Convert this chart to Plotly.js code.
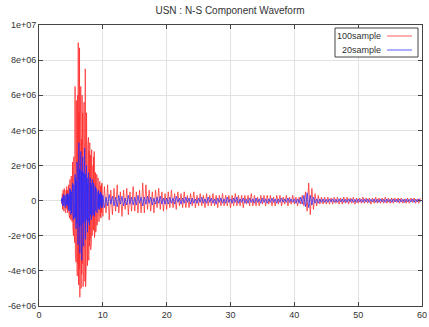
<!DOCTYPE html>
<html><head><meta charset="utf-8">
<script src="https://cdn.plot.ly/plotly-3.0.1.min.js"></script>
<style>html,body{margin:0;padding:0;background:#fff}#c{width:429px;height:327px}</style>
</head><body><div id="c"></div>
<script>
// Values in units of 1e6 counts
const UNIT = 1e6;
// 100sample series: main event (start 3.5 s, step 0.05 s) and coda (start 10 s, step 0.25 s)
const red_main_t0 = 3.5, red_main_dt = 0.05;
const red_main = [
 0,0.1,-0.2,0.4,-0.5,0.6,-0.4,0.5,-0.6,0.7,-0.5,0.4,-0.6,0.5,-0.7,0.6,-0.4,0.8,-0.5,0.6,
 -0.7,0.5,-0.6,0.9,-0.8,0.6,-1.0,1.2,-0.7,0.9,-1.1,1.4,-0.9,1.8,-1.2,2.2,-1.5,1.6,-2.0,2.5,
 -1.8,3.2,-2.4,6.5,-3.0,4.0,-3.5,5.7,-2.8,4.5,-4.3,6.0,-3.6,9.0,-4.8,5.0,-3.9,8.7,-5.5,4.2,
 -3.8,6.5,-5.0,3.5,-4.2,6.0,-3.6,5.0,-4.9,4.5,-4.0,5.6,-3.3,4.6,-4.6,7.5,-4.9,4.8,-3.7,5.0,
 -3.5,4.0,-3.7,3.2,-2.9,3.6,-3.4,2.8,-2.6,3.3,-2.2,2.6,-2.8,2.2,-2.4,2.9,-2.0,2.3,-1.9,2.0,
 -1.7,2.5,-1.6,2.8,-2.1,1.8,-1.5,1.6,-1.8,1.4,-1.2,1.5,-1.4,1.2,-1.0,1.3,-1.1,1.0,-1.2,0.9,
 -0.8,1.1,-0.9,0.8,-1.0,0.9,-0.7,1.0,-0.8,0.7
];
const red_tail_t0 = 10.0, red_tail_dt = 0.25;
const red_tail = [
 -0.9,0.8,-0.7,0.9,-1.1,0.6,-0.8,0.7,-0.6,0.9,-0.7,0.5,-0.9,0.6,-0.5,0.7,-0.8,0.5,-0.6,0.8,
 -0.6,0.5,-0.7,0.6,-0.7,1.0,-0.7,0.9,-0.5,0.6,-0.6,0.5,-0.7,0.6,-0.4,0.7,-0.5,0.5,-0.6,0.4,
 -0.5,0.5,-0.4,0.6,-0.4,0.4,-0.5,0.5,-0.3,0.4,-0.4,0.5,-0.4,0.3,-0.4,0.4,-0.3,0.5,-0.4,0.3,
 -0.3,0.4,-0.3,0.3,-0.4,0.4,-0.3,0.3,-0.3,0.4,-0.3,0.3,-0.4,0.3,-0.3,0.4,-0.3,0.3,-0.3,0.3,
 -0.4,0.3,-0.3,0.4,-0.3,0.3,-0.3,0.3,-0.4,0.3,-0.2,0.3,-0.3,0.4,-0.3,0.3,-0.3,0.2,-0.3,0.3,
 -0.2,0.3,-0.3,0.3,-0.2,0.3,-0.3,0.2,-0.3,0.3,-0.2,0.3,-0.3,0.2,-0.2,0.3,-0.3,0.2,-0.2,0.3,
 -0.2,0.2,-0.3,0.2,-0.2,0.3,-0.3,0.5,-0.6,1.0,-0.8,0.7,-0.5,0.4,-0.3,0.3,-0.2,0.2,-0.2,0.2,
 -0.2,0.2,-0.2,0.15,-0.2,0.2,-0.15,0.2,-0.2,0.15,-0.2,0.2,-0.15,0.2,-0.2,0.15,-0.15,0.2,-0.2,0.15,
 -0.15,0.15,-0.15,0.2,-0.15,0.15,-0.15,0.15,-0.2,0.15,-0.15,0.2,-0.15,0.15,-0.15,0.15,-0.15,0.2,-0.15,0.15,
 -0.15,0.15,-0.15,0.15,-0.1,0.15,-0.15,0.15,-0.15,0.1,-0.15,0.15,-0.15,0.15,-0.1,0.15,-0.15,0.1,-0.15,0.15
];
// 20sample series: main event (start 3.5 s, step 0.05 s) and coda (start 10 s, step 0.25 s)
const blue_main_t0 = 3.5, blue_main_dt = 0.05;
const blue_main = [
 0,0.1,-0.15,0.2,-0.3,0.25,-0.2,0.35,-0.3,0.2,-0.25,0.3,-0.4,0.2,-0.3,0.35,-0.25,0.3,-0.2,0.4,
 -0.3,0.4,-0.5,0.3,-0.6,0.5,-0.4,0.7,-0.5,0.6,-0.8,0.5,-0.7,0.9,-0.6,1.0,-0.8,0.7,-1.1,0.9,
 -0.8,1.2,-1.0,1.5,-0.9,1.3,-1.6,1.1,-1.3,2.2,-1.2,1.6,-2.5,1.4,-1.7,3.3,-1.5,1.8,-3.0,1.5,
 -1.6,2.8,-1.4,1.7,-3.4,1.5,-1.8,2.5,-1.3,1.6,-2.6,1.4,-1.5,3.0,-1.2,1.5,-2.2,1.3,-1.4,2.0,
 -1.1,1.3,-1.8,1.0,-1.2,1.6,-0.9,1.1,-1.4,0.9,-1.0,1.3,-0.8,1.0,-1.1,0.8,-0.9,1.2,-0.7,0.9,
 -0.8,1.0,-0.7,0.8,-0.9,0.6,-0.7,0.8,-0.6,0.7,-0.5,0.6,-0.7,0.5,-0.6,0.5,-0.4,0.6,-0.5,0.4,
 -0.5,0.4,-0.4,0.5,-0.3,0.4,-0.4,0.3,-0.4,0.3
];
const blue_tail_t0 = 10.0, blue_tail_dt = 0.25;
const blue_tail = [
 0.3,-0.4,0.2,-0.3,0.35,-0.2,0.25,-0.3,0.2,-0.35,0.3,-0.2,0.25,-0.3,0.15,-0.25,0.3,-0.2,0.2,-0.25,
 0.2,-0.25,0.3,-0.15,0.2,-0.3,0.2,-0.2,0.25,-0.15,0.2,-0.25,0.15,-0.2,0.2,-0.15,0.25,-0.2,0.15,-0.2,
 0.15,-0.2,0.2,-0.15,0.15,-0.2,0.25,-0.1,0.15,-0.2,0.15,-0.15,0.2,-0.1,0.15,-0.2,0.15,-0.15,0.1,-0.15,
 0.15,-0.1,0.2,-0.15,0.1,-0.15,0.2,-0.1,0.15,-0.15,0.1,-0.2,0.15,-0.1,0.15,-0.15,0.1,-0.15,0.2,-0.1,
 0.1,-0.15,0.15,-0.1,0.2,-0.15,0.1,-0.1,0.15,-0.15,0.1,-0.15,0.15,-0.1,0.1,-0.15,0.15,-0.1,0.1,-0.15,
 0.15,-0.1,0.1,-0.15,0.1,-0.1,0.15,-0.1,0.1,-0.15,0.1,-0.1,0.15,-0.1,0.1,-0.1,0.15,-0.1,0.1,-0.1,
 0.1,-0.15,0.1,-0.15,0.2,-0.2,0.3,-0.35,0.45,-0.4,0.3,-0.25,0.2,-0.15,0.1,-0.15,0.1,-0.1,0.1,-0.1,
 0.08,-0.1,0.1,-0.08,0.1,-0.1,0.08,-0.1,0.1,-0.08,0.1,-0.1,0.08,-0.1,0.1,-0.08,0.1,-0.1,0.08,-0.1,
 0.1,-0.08,0.08,-0.1,0.1,-0.08,0.1,-0.1,0.08,-0.08,0.1,-0.1,0.08,-0.1,0.1,-0.08,0.08,-0.1,0.1,-0.08,
 0.08,-0.1,0.1,-0.08,0.08,-0.1,0.1,-0.08,0.08,-0.1,0.1,-0.08,0.08,-0.08,0.1,-0.1,0.08,-0.08,0.1,-0.08
];
const seriesNames = ["100sample", "20sample"];
const xTicks = [0,10,20,30,40,50,60];
const yTicks = [-6e6,-4e6,-2e6,0,2e6,4e6,6e6,8e6,1e7];
const yTickText = ["-6e+06","-4e+06","-2e+06","0","2e+06","4e+06","6e+06","8e+06","1e+07"];

function build(segs){
  const x=[], y=[];
  segs.forEach(([t0,dt,vals])=>vals.forEach((v,i)=>{x.push(+(t0+i*dt).toFixed(3)); y.push(v*UNIT);}));
  return {x,y};
}
const red = build([[red_main_t0,red_main_dt,red_main],[red_tail_t0,red_tail_dt,red_tail]]);
const blue = build([[blue_main_t0,blue_main_dt,blue_main],[blue_tail_t0,blue_tail_dt,blue_tail]]);

const traces = [
 {x:red.x,y:red.y,type:'scatter',mode:'lines',name:seriesNames[0],line:{color:'#ff2a2a',width:0.75},showlegend:false},
 {x:blue.x,y:blue.y,type:'scatter',mode:'lines',name:seriesNames[1],line:{color:'#2a2aff',width:0.75},showlegend:false}
];
const L=39,R=422,T=25,B=306,W=429,H=327;
const px=(p)=>(p-L)/(R-L), py=(p)=>(B-p)/(B-T);
const font={family:'Liberation Sans, Arial, sans-serif',size:9,color:'#333'};
const layout = {
 width:W,height:H,margin:{l:L,r:W-R,t:T,b:H-B},
 paper_bgcolor:'#fff',plot_bgcolor:'#fff',
 title:{text:'USN : N-S Component Waveform',font:{family:'Liberation Sans, Arial, sans-serif',size:10,color:'#333'},x:px(230),xref:'paper',y:1-10/H,yanchor:'middle'},
 xaxis:{range:[0,60],tickvals:xTicks,ticktext:xTicks.map(String),showgrid:true,gridcolor:'#e2e2e2',gridwidth:1,
   zeroline:false,showline:true,linecolor:'#444',linewidth:1,mirror:'ticks',ticks:'inside',ticklen:4,tickcolor:'#444',tickfont:font},
 yaxis:{range:[-6e6,1e7],tickvals:yTicks,ticktext:yTickText,showgrid:true,gridcolor:'#e2e2e2',gridwidth:1,
   zeroline:false,showline:true,linecolor:'#444',linewidth:1,mirror:'ticks',ticks:'inside',ticklen:4,tickcolor:'#444',tickfont:font},
 shapes:[
  {type:'rect',xref:'paper',yref:'paper',x0:px(335),x1:px(418),y0:py(57),y1:py(28),line:{color:'#444',width:1},fillcolor:'#fff',layer:'above'},
  {type:'line',xref:'paper',yref:'paper',x0:px(387),x1:px(412),y0:py(36),y1:py(36),line:{color:'#ff2a2a',width:0.75},layer:'above'},
  {type:'line',xref:'paper',yref:'paper',x0:px(387),x1:px(412),y0:py(50),y1:py(50),line:{color:'#2a2aff',width:0.75},layer:'above'}
 ],
 annotations:[
  {text:seriesNames[0],xref:'paper',yref:'paper',x:px(383),y:py(36),xanchor:'right',yanchor:'middle',showarrow:false,font:font},
  {text:seriesNames[1],xref:'paper',yref:'paper',x:px(383),y:py(50),xanchor:'right',yanchor:'middle',showarrow:false,font:font}
 ]
};
Plotly.newPlot('c',traces,layout,{displayModeBar:false,staticPlot:true});
</script></body></html>
